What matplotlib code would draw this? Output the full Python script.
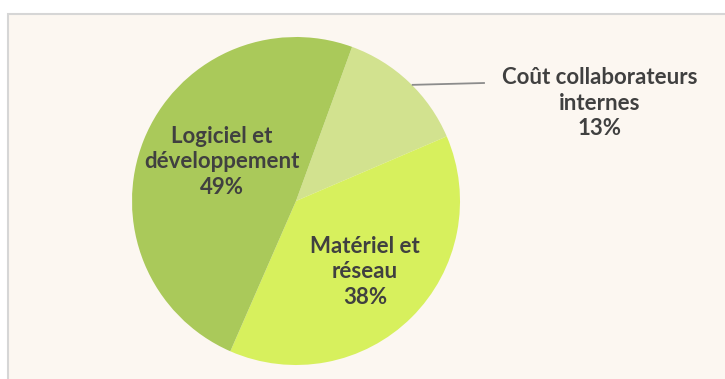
import numpy as np
import matplotlib
matplotlib.use("Agg")
import matplotlib.pyplot as plt
from matplotlib.patches import Rectangle

labels = ["Coût collaborateurs\ninternes", "Matériel et\nréseau", "Logiciel et\ndéveloppement"]
shares = [13, 38, 49]
colors = ["#d2e28f", "#d7f05d", "#aac95a"]

W, H = 725, 379
fig = plt.figure(figsize=(W / 100, H / 100), dpi=100)
fig.patch.set_facecolor("white")
ax = fig.add_axes([0, 0, 1, 1])

# chart area with thin border
ax.add_patch(Rectangle((8, -5), W, H - 14 + 5, facecolor="#fcf7f1",
                       edgecolor="#d6d6d6", lw=1.5, zorder=0))

cx, cy, r = 296, H - 201, 164
start = 70  # first wedge begins 20 deg clockwise from 12 o'clock
wedges, _ = ax.pie(shares, colors=colors, startangle=start, counterclock=False,
                   radius=r, center=(cx, cy), frame=True,
                   wedgeprops=dict(linewidth=0))
ax.set_xlim(0, W); ax.set_ylim(0, H); ax.set_aspect("equal"); ax.axis("off")

font = dict(family=["Lato", "DejaVu Sans"], weight="bold", color="#404040",
            fontsize=16, ha="center", va="center", linespacing=1.25)

# outside label for the smallest slice, with leader line
w0 = wedges[0]
mid = np.deg2rad((w0.theta1 + w0.theta2) / 2)
px, py = cx + r * np.cos(mid), cy + r * np.sin(mid)
ax.plot([px + 4, 484], [py - 3, H - 83], color="#8c8c8c", lw=1.3, zorder=3)
ax.text(600, H - 103, f"{labels[0]}\n{shares[0]}%", **font)

ax.text(365, H - 272, f"{labels[1]}\n{shares[1]}%", **font)
ax.text(222, H - 162, f"{labels[2]}\n{shares[2]}%", **font)

fig.savefig("out.png", dpi=100)
